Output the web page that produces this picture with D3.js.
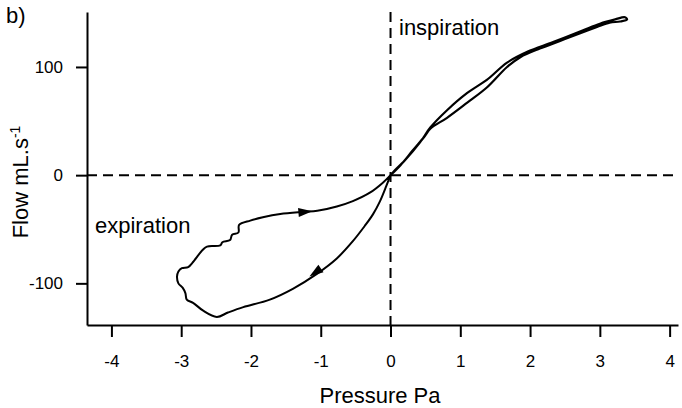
<!DOCTYPE html>
<html>
<head>
<meta charset="utf-8">
<script src="https://cdn.jsdelivr.net/npm/d3@7"></script>
<style>
  body { margin: 0; background: #fff; }
  text { font-family: Arial, "Liberation Sans", sans-serif; fill: #000; }
</style>
</head>
<body>
<script>
// axis ticks
var xTicks = [-4, -3, -2, -1, 0, 1, 2, 3, 4];
var yTicks = [-100, 0, 100];

// expiration loop: origin -> lower branch -> left side -> upper branch -> origin
var expPressure = [0, -0.06, -0.15, -0.25, -0.37, -0.54, -0.77, -1.05, -1.40, -1.73, -2.11, -2.33, -2.49,
    -2.69, -2.83, -2.92, -2.94, -2.98, -3.04, -3.06, -3.04, -2.99, -2.90, -2.84, -2.69, -2.63, -2.44, -2.41,
    -2.30, -2.27, -2.18, -2.17, -2.01, -1.83, -1.58, -1.25, -1.05, -0.77, -0.54, -0.29, -0.11, 0];
var expFlow = [0, -10, -24, -36, -47, -61, -77, -91, -105, -115, -122, -127, -131,
    -125, -118, -115, -109, -104, -100, -94, -89, -86, -85, -81, -69, -66, -65, -62,
    -60, -55, -53, -46, -42, -39, -36, -34, -33, -29, -24, -16, -7, 0];

// inspiration loop: origin -> up to the top -> back down
var inspPressure = [0, 0.14, 0.32, 0.49, 0.57, 0.81, 1.10, 1.38, 1.67, 1.86, 2.14, 2.43, 2.71, 2.96, 3.14, 3.29, 3.39,
    3.36, 3.22, 3.00, 2.76, 2.33, 1.96, 1.67, 1.38, 1.10, 0.81, 0.57, 0.42, 0.21, 0.04, 0];
var inspFlow = [0, 9, 23, 36, 43, 53, 67, 81, 100, 109, 117, 124, 131, 137, 141, 142, 144,
    146, 144, 140, 134, 123, 114, 104, 88, 76, 60, 44, 30, 14, 3, 0];

// direction arrows on the expiration loop
var arrowPressure = [-1.22, -1.08];
var arrowFlow = [-34, -90];

var W = 682, H = 408;
var margin = {top: 12, right: 4, bottom: 83, left: 87};

var x = d3.scaleLinear().domain([-4.35, 4.12]).range([margin.left, W - margin.right]);
var y = d3.scaleLinear().domain([-138.5, 150.8]).range([H - margin.bottom, margin.top]);

var svg = d3.select("body").append("svg")
    .attr("width", W)
    .attr("height", H);

// dashed zero lines
svg.append("line")
    .attr("x1", x.range()[0]).attr("x2", x.range()[1])
    .attr("y1", y(0)).attr("y2", y(0))
    .attr("stroke", "#000").attr("stroke-width", 2)
    .attr("stroke-dasharray", "10,6");
svg.append("line")
    .attr("x1", x(0)).attr("x2", x(0))
    .attr("y1", y.range()[1]).attr("y2", y.range()[0])
    .attr("stroke", "#000").attr("stroke-width", 2)
    .attr("stroke-dasharray", "10,6");

// axes
var xAxis = svg.append("g")
    .attr("transform", "translate(0," + y.range()[0] + ")")
    .call(d3.axisBottom(x).tickValues(xTicks).tickSize(12).tickSizeOuter(0).tickPadding(18)
        .tickFormat(d3.format("d")));
var yAxis = svg.append("g")
    .attr("transform", "translate(" + x.range()[0] + ",0)")
    .call(d3.axisLeft(y).tickValues(yTicks).tickSize(11).tickSizeOuter(0).tickPadding(13)
        .tickFormat(d3.format("d")));

[xAxis, yAxis].forEach(function (g) {
    g.select(".domain").attr("stroke", "#000").attr("stroke-width", 2);
    g.selectAll(".tick line").attr("stroke", "#000").attr("stroke-width", 2);
    g.selectAll(".tick text")
        .style("font-family", "Arial, 'Liberation Sans', sans-serif")
        .style("font-size", "17px")
        .attr("fill", "#000");
});
// hyphen-minus like the original
xAxis.selectAll(".tick text").text(d => String(d));
yAxis.selectAll(".tick text").text(d => String(d));

// curves
var line = d3.line()
    .x(d => x(d[0]))
    .y(d => y(d[1]))
    .curve(d3.curveCatmullRom.alpha(0.5));

var expData = d3.zip(expPressure, expFlow);
var inspData = d3.zip(inspPressure, inspFlow);

svg.append("path")
    .datum(expData)
    .attr("d", line)
    .attr("fill", "none").attr("stroke", "#000").attr("stroke-width", 2)
    .attr("stroke-linejoin", "round");

svg.append("path")
    .datum(inspData)
    .attr("d", line)
    .attr("fill", "none").attr("stroke", "#000").attr("stroke-width", 2.2)
    .attr("stroke-linejoin", "round");

// arrows, oriented along the loop
arrowPressure.forEach(function (p, k) {
    var f = arrowFlow[k];
    var best = 1, bestD = Infinity;
    for (var i = 1; i < expData.length - 1; i++) {
        var dx = x(expData[i][0]) - x(p), dy = y(expData[i][1]) - y(f);
        var dd = dx * dx + dy * dy;
        if (dd < bestD) { bestD = dd; best = i; }
    }
    var a = expData[best - 1], b = expData[best + 1];
    var ang = Math.atan2(y(b[1]) - y(a[1]), x(b[0]) - x(a[0])) * 180 / Math.PI;
    svg.append("path")
        .attr("d", "M7,0 L-7,-4.5 L-7,4.5 Z")
        .attr("fill", "#000")
        .attr("transform", "translate(" + x(p) + "," + y(f) + ") rotate(" + ang + ")");
});

// labels
svg.append("text")
    .attr("x", 6).attr("y", 23)
    .style("font-size", "22px")
    .text("b)");

svg.append("text")
    .attr("x", 399).attr("y", 35)
    .style("font-size", "22px")
    .text("inspiration");

svg.append("text")
    .attr("x", 95).attr("y", 233)
    .style("font-size", "22px")
    .text("expiration");

svg.append("text")
    .attr("x", 380).attr("y", 403)
    .attr("text-anchor", "middle")
    .style("font-size", "22px")
    .text("Pressure Pa");

var yTitle = svg.append("text")
    .attr("transform", "translate(28,182) rotate(-90)")
    .attr("text-anchor", "middle")
    .style("font-size", "22px");
yTitle.append("tspan").text("Flow mL.s");
yTitle.append("tspan")
    .attr("dy", -8)
    .style("font-size", "14px")
    .text("-1");
</script>
</body>
</html>
